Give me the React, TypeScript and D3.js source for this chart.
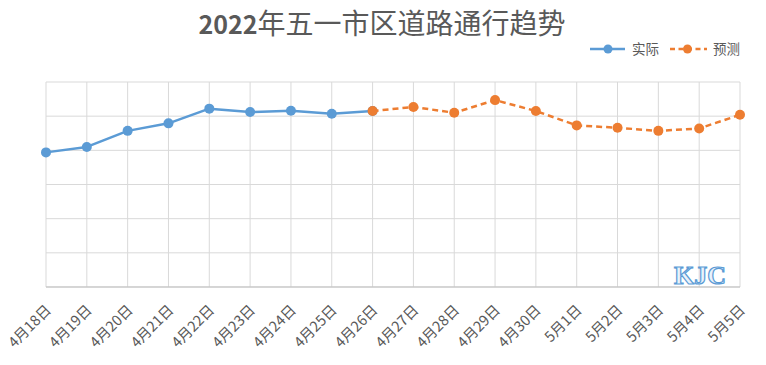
import React from "react";
import * as d3 from "d3";

const categories = [
  "4月18日", "4月19日", "4月20日", "4月21日", "4月22日", "4月23日",
  "4月24日", "4月25日", "4月26日", "4月27日", "4月28日", "4月29日",
  "4月30日", "5月1日", "5月2日", "5月3日", "5月4日", "5月5日",
];
const actualDates = categories.slice(0, 9);
const actualValues = [39.4, 41.0, 45.7, 47.9, 52.2, 51.2, 51.6, 50.7, 51.5];
const forecastDates = categories.slice(8);
const forecastValues = [51.5, 52.7, 51.0, 54.7, 51.5, 47.3, 46.6, 45.7, 46.4, 50.4];
const yTicks = [0, 10, 20, 30, 40, 50, 60];
const titleYear = "2022";
const titleRest = "年五一市区道路通行趋势";
const legendLabels = ["实际", "预测"];

const W = 766, H = 365;
const left = 46, right = 740, top = 82, bottom = 287;
const BLUE = "#5B9BD5", ORANGE = "#ED7D31", TEXT = "#595959";
const FONT = "'Noto Sans CJK SC', 'Noto Sans', sans-serif";

export default function App() {
  const x = d3.scalePoint<string>().domain(categories).range([left, right]);
  const y = d3.scaleLinear().domain([0, 60]).range([bottom, top]);
  const line = d3.line<[string, number]>().x((d) => x(d[0])!).y((d) => y(d[1]));
  const actual: [string, number][] = actualDates.map((d, i) => [d, actualValues[i]]);
  const forecast: [string, number][] = forecastDates.map((d, i) => [d, forecastValues[i]]);

  return (
    <svg width={W} height={H} style={{ position: "absolute", left: 0, top: 0, background: "#fff" }}>
      <text x={382} y={34} textAnchor="middle" fill={TEXT} fontFamily={FONT}>
        <tspan fontSize={25} fontWeight="bold">{titleYear}</tspan>
        <tspan fontSize={28} fontWeight="normal">{titleRest}</tspan>
      </text>
      {/* legend */}
      <g fontFamily={FONT} fontSize={13.5} fill={TEXT}>
        <line x1={590} x2={625} y1={49} y2={49} stroke={BLUE} strokeWidth={2.5} />
        <circle cx={608} cy={49} r={4.5} fill={BLUE} />
        <text x={632} y={54}>{legendLabels[0]}</text>
        <line x1={670} x2={707} y1={49} y2={49} stroke={ORANGE} strokeWidth={2.5} strokeDasharray="5,3.5" />
        <circle cx={687.5} cy={49} r={4.5} fill={ORANGE} />
        <text x={713} y={54}>{legendLabels[1]}</text>
      </g>
      {/* grid */}
      {yTicks.map((t) => (
        <line key={"h" + t} x1={left} x2={right} y1={y(t)} y2={y(t)} stroke="#d9d9d9" strokeWidth={1} />
      ))}
      {categories.map((c) => (
        <line key={"v" + c} x1={x(c)} x2={x(c)} y1={top} y2={bottom} stroke="#d9d9d9" strokeWidth={1} />
      ))}
      <line x1={left} x2={right} y1={bottom} y2={bottom} stroke="#bfbfbf" strokeWidth={1} />
      {/* x labels */}
      {categories.map((c) => (
        <text
          key={"l" + c}
          transform={`translate(${x(c)! + 6},${bottom + 24}) rotate(-45)`}
          textAnchor="end"
          fontSize={14.5}
          fill={TEXT}
          fontFamily={FONT}
        >
          {c}
        </text>
      ))}
      {/* watermark */}
      <text x={700} y={284} textAnchor="middle" fontFamily="'Liberation Serif', serif" fontWeight="bold"
        fontSize={26} fill="#eaf2fb" stroke={BLUE} strokeWidth={1.2}>
        KJC
      </text>
      {/* series */}
      <path d={line(actual)!} fill="none" stroke={BLUE} strokeWidth={2.5} strokeLinejoin="round" />
      {actual.map((d) => (
        <circle key={"a" + d[0]} cx={x(d[0])} cy={y(d[1])} r={5} fill={BLUE} />
      ))}
      <path d={line(forecast)!} fill="none" stroke={ORANGE} strokeWidth={2.5} strokeDasharray="6,4" strokeLinejoin="round" />
      {forecast.map((d) => (
        <circle key={"f" + d[0]} cx={x(d[0])} cy={y(d[1])} r={5} fill={ORANGE} />
      ))}
    </svg>
  );
}
